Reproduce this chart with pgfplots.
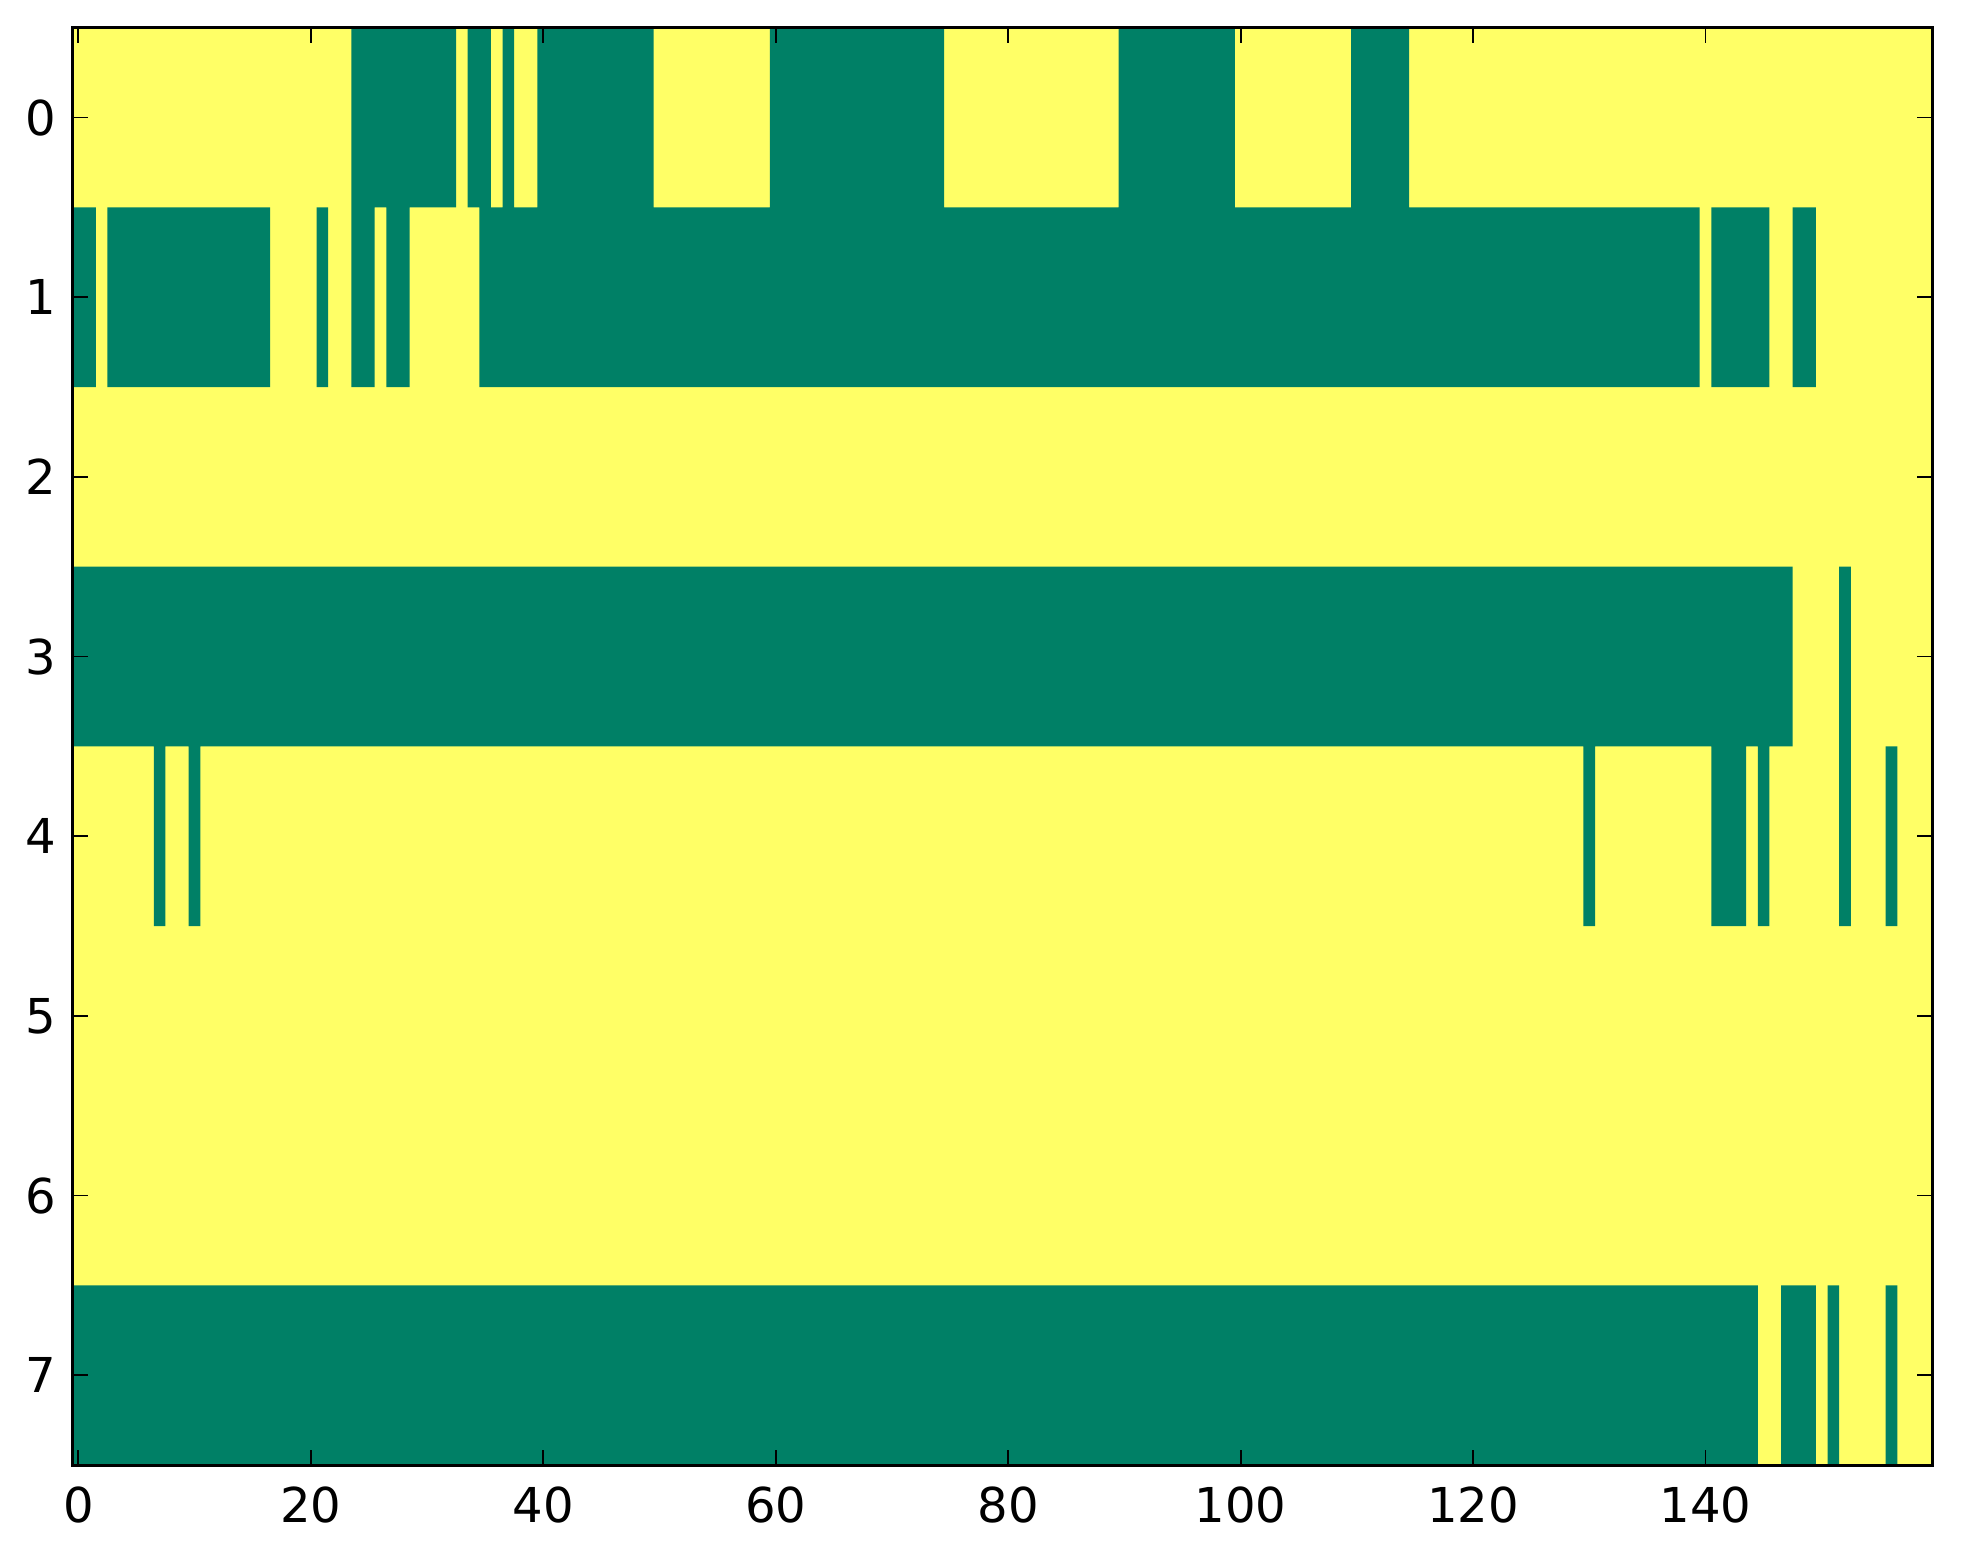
\documentclass[border=0pt]{standalone}
\usepackage{fontspec}
\setmainfont{DejaVu Sans}
\usepackage{pgfplots}
\pgfplotsset{compat=1.18}

\definecolor{grn}{HTML}{008066}
\definecolor{ylw}{HTML}{FFFF66}

% green cells of the 8 x 160 image, one rectangle per run:
% corners x0 y0, x1 y0, x1 y1, x0 y1, then nan to break the path
\pgfplotstableread{
x y
23.5 -0.5
32.5 -0.5
32.5 0.5
23.5 0.5
nan nan
33.5 -0.5
35.5 -0.5
35.5 0.5
33.5 0.5
nan nan
36.5 -0.5
37.5 -0.5
37.5 0.5
36.5 0.5
nan nan
39.5 -0.5
49.5 -0.5
49.5 0.5
39.5 0.5
nan nan
59.5 -0.5
74.5 -0.5
74.5 0.5
59.5 0.5
nan nan
89.5 -0.5
99.5 -0.5
99.5 0.5
89.5 0.5
nan nan
109.5 -0.5
114.5 -0.5
114.5 0.5
109.5 0.5
nan nan
-0.5 0.5
1.5 0.5
1.5 1.5
-0.5 1.5
nan nan
2.5 0.5
16.5 0.5
16.5 1.5
2.5 1.5
nan nan
20.5 0.5
21.5 0.5
21.5 1.5
20.5 1.5
nan nan
23.5 0.5
25.5 0.5
25.5 1.5
23.5 1.5
nan nan
26.5 0.5
28.5 0.5
28.5 1.5
26.5 1.5
nan nan
34.5 0.5
139.5 0.5
139.5 1.5
34.5 1.5
nan nan
140.5 0.5
145.5 0.5
145.5 1.5
140.5 1.5
nan nan
147.5 0.5
149.5 0.5
149.5 1.5
147.5 1.5
nan nan
-0.5 2.5
147.5 2.5
147.5 3.5
-0.5 3.5
nan nan
151.5 2.5
152.5 2.5
152.5 3.5
151.5 3.5
nan nan
6.5 3.5
7.5 3.5
7.5 4.5
6.5 4.5
nan nan
9.5 3.5
10.5 3.5
10.5 4.5
9.5 4.5
nan nan
129.5 3.5
130.5 3.5
130.5 4.5
129.5 4.5
nan nan
140.5 3.5
143.5 3.5
143.5 4.5
140.5 4.5
nan nan
144.5 3.5
145.5 3.5
145.5 4.5
144.5 4.5
nan nan
151.5 3.5
152.5 3.5
152.5 4.5
151.5 4.5
nan nan
155.5 3.5
156.5 3.5
156.5 4.5
155.5 4.5
nan nan
-0.5 6.5
144.5 6.5
144.5 7.5
-0.5 7.5
nan nan
146.5 6.5
149.5 6.5
149.5 7.5
146.5 7.5
nan nan
150.5 6.5
151.5 6.5
151.5 7.5
150.5 7.5
nan nan
155.5 6.5
156.5 6.5
156.5 7.5
155.5 7.5
}\greencells

\begin{document}
\fontsize{12}{14.4}\selectfont
\begin{tikzpicture}
\begin{axis}[
    scale only axis,
    width=464.2pt,
    height=358.8pt,
    xmin=-0.5, xmax=159.5,
    ymin=-0.5, ymax=7.5,
    y dir=reverse,
    xtick={0,20,...,140},
    ytick={0,...,7},
    tick align=inside,
    major tick length=3.8pt,
    tick style={line width=0.45pt, black},
    axis line style={line width=0.75pt},
    axis on top,
    axis background/.style={fill=ylw},
    tick label style={font=\fontsize{12}{14.4}\selectfont},
    xticklabel style={yshift=-1.3pt},
    /pgf/number format/assume math mode=true,
    unbounded coords=jump,
]
\addplot[fill=grn, draw=none] table[x=x, y=y] {\greencells};
\end{axis}
\pgfresetboundingbox
\path[use as bounding box] (-18.1pt,-24.7pt) rectangle (471.9pt,365.7pt);
\end{tikzpicture}
\end{document}
